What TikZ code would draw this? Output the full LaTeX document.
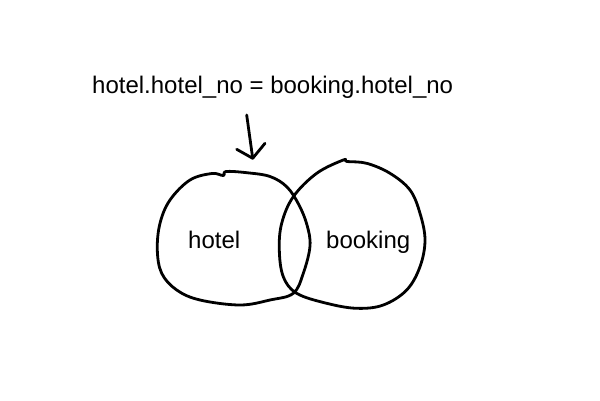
\documentclass[tikz,border=0pt]{standalone}
\usepackage{fontspec}
\setmainfont{Liberation Sans}
\begin{document}
\begin{tikzpicture}[x=1pt,y=-1pt,
  ink/.style={line width=2.8pt,line cap=round,line join=round},
  lbl/.style={font=\fontsize{24}{28}\selectfont,inner sep=0pt,anchor=base west}]
\useasboundingbox (0,0) rectangle (600,400);
\node[lbl] (cond) at (92,93) {hotel.hotel\_no = booking.hotel\_no};
\node[lbl] (hotel) at (188,248) {hotel};
\node[lbl] (booking) at (326,248) {booking};
% arrow
\coordinate (a0) at (246.7,115);
\coordinate (tip) at (252.7,158.3);
\coordinate (hl) at (236.7,149.3);
\coordinate (hr) at (265,143.3);
\draw[ink] (a0) -- (tip);
\draw[ink] (hl) -- (tip) -- (hr);
% left blob
\draw[ink] plot[smooth cycle,tension=0.6] coordinates {
 (223.3,175.5) (226,171.5) (246.7,172.7) (270,176.5) (287,187) (299,205) (307,225)
 (310,246) (303.3,273.3) (293.3,293.3) (270,300) (240,305) (200,300)
 (176.7,290) (161.7,273.3) (157.3,250) (160,223.3) (170,200) (190,180) (212,173.5)};
% right blob
\draw[ink] plot[smooth cycle,tension=0.6] coordinates {
 (293.3,196.7) (316.7,173.3) (343.3,160) (347,161.5) (366.7,163.3) (390,173.3)
 (410,190) (420,213.3) (425,240) (420,266.7) (406.7,290) (383.3,305)
 (356.7,308.3) (326.7,303.3) (296.7,293.3) (283.3,276.7) (279.3,250) (281.7,223.3)};
\end{tikzpicture}
\end{document}
